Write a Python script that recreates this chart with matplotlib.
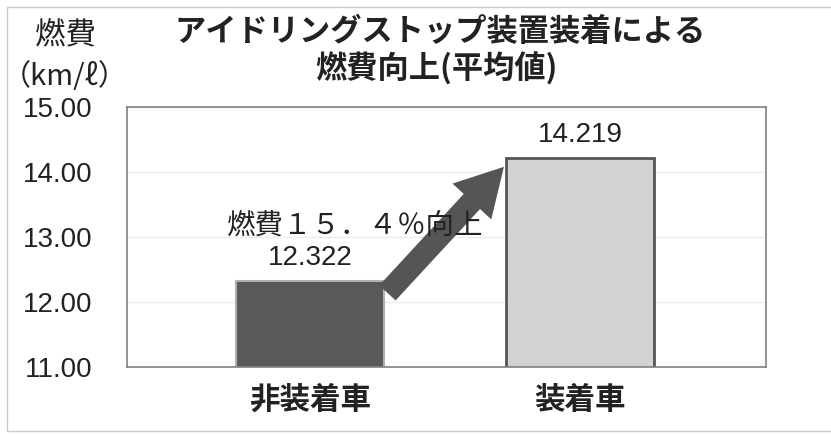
import matplotlib
matplotlib.use("Agg")
import matplotlib.pyplot as plt
from matplotlib.patches import Rectangle

plt.rcParams['font.family'] = ['Noto Sans CJK JP', 'DejaVu Sans']

# data
categories = ['非装着車', '装着車']
values = [12.322, 14.219]
value_labels = ['12.322', '14.219']
yticks = [11, 12, 13, 14, 15]
ytick_labels = ['11.00', '12.00', '13.00', '14.00', '15.00']
title1 = 'アイドリングストップ装置装着による'
title2 = '燃費向上(平均値)'
note = '燃費１５．４％向上'

fig = plt.figure(figsize=(8.31, 4.34), dpi=100)
fig.patch.set_facecolor('white')
# faint outer chart border
fig.patches.append(Rectangle((7/831, 3/434), 830/831, 424/434, transform=fig.transFigure,
                             fill=False, ec='#cccccc', lw=1))

ax = fig.add_axes([127/831, 1-367/434, 639/831, 260/434])
x = [0, 1]
bars = ax.bar(x, values, width=0.55, bottom=0)
bars[0].set_facecolor('#595959'); bars[0].set_edgecolor('#b0b0b0'); bars[0].set_linewidth(1.5)
bars[1].set_facecolor('#d2d2d2'); bars[1].set_edgecolor('#555555'); bars[1].set_linewidth(2)

ax.set_ylim(11, 15)
ax.set_xlim(-0.68, 1.69)
ax.set_yticks(yticks)
ax.set_yticklabels(ytick_labels, family='Liberation Sans', fontsize=20, color='#222222')
ax.set_xticks(x)
ax.set_xticklabels(categories, fontsize=22, fontweight='bold', color='#222222')
ax.tick_params(axis='y', length=0, pad=25)
ax.tick_params(axis='x', length=0, pad=12)
ax.grid(axis='y', color='#ececec', lw=1)
ax.set_axisbelow(True)
for s in ax.spines.values():
    s.set_color('#808080')
    s.set_linewidth(1.2)

for xi, v, lab in zip(x, values, value_labels):
    ax.annotate(lab, (xi, v), xytext=(0, 7), textcoords='offset points',
                ha='center', va='bottom', family='Liberation Sans', fontsize=20, color='#222222')

# arrow from non-equipped to equipped
ax.annotate('', xy=(0.718, 14.08), xytext=(0.286, 12.14),
            arrowprops=dict(arrowstyle='simple,head_length=1.7,head_width=1.9,tail_width=0.8',
                            mutation_scale=20, shrinkA=0, shrinkB=0, fc='#555555', ec='none'))
ax.text(0.164, 13.17, note, ha='center', va='center', fontsize=20.5, color='#222222')

fig.text(440/831, 1-32/434, title1, ha='center', va='center', fontsize=22.5,
         fontweight='bold', color='#222222')
fig.text(437/831, 1-69/434, title2, ha='center', va='center', fontsize=22.5,
         fontweight='bold', color='#222222')
fig.text(66/831, 1-35/434, '燃費', ha='center', va='center', fontsize=22, color='#222222')
fig.text(65/831, 1-77/434, '（km/ℓ）', ha='center', va='center', fontsize=21,
         family=['Noto Sans CJK JP', 'DejaVu Sans'], color='#222222')

fig.savefig('out.png', dpi=100)
